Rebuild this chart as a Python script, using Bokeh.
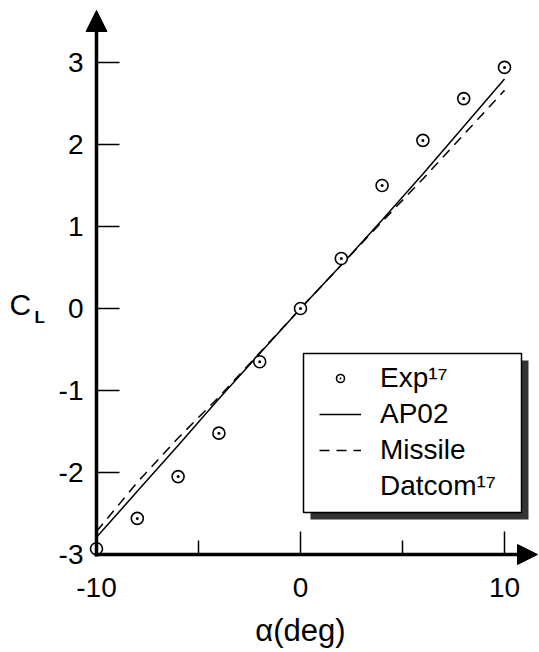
from bokeh.plotting import figure
from bokeh.models import Range1d, Arrow, NormalHead, Legend, LegendItem
from bokeh.core.properties import value
from bokeh.embed import file_html
from bokeh.resources import INLINE

# ---- data ----
alpha = [-10, -8, -6, -4, -2, 0, 2, 4, 6, 8, 10]
exp_cl = [-2.93, -2.56, -2.05, -1.52, -0.65, 0.0, 0.61, 1.50, 2.05, 2.56, 2.94]
ap02_cl = [-2.79, -2.23, -1.67, -1.10, -0.55, 0.0, 0.53, 1.08, 1.64, 2.22, 2.80]
datcom_cl = [-2.72, -2.12, -1.58, -1.08, -0.54, 0.0, 0.53, 1.06, 1.58, 2.12, 2.66]

x_ticks = [-10, 0, 10]
x_minor = [-5, 5]
x_tick_labels = ["-10", "0", "10"]
y_ticks = [-3, -2, -1, 0, 1, 2, 3]
y_tick_labels = ["-3", "-2", "-1", "0", "1", "2", "3"]

FONT = "Liberation Sans"
W, H = 539, 652
OX, OY = 96, 554          # canvas px of the axes origin (-10, -3)
SX, SY = 20.4, 82.0       # px per data unit
X0, Y0 = -10.0, -3.0

def X(px):
    return X0 + (px - OX) / SX

def Y(py):
    return Y0 + (OY - py) / SY

p = figure(width=W, height=H, output_backend="svg", toolbar_location=None,
           x_range=Range1d(X(0), X(W)), y_range=Range1d(Y(H), Y(0)),
           x_axis_location=None, y_axis_location=None,
           min_border=0, min_border_left=0, min_border_right=0,
           min_border_top=0, min_border_bottom=0)
p.outline_line_color = None
p.xgrid.visible = False
p.ygrid.visible = False
p.background_fill_color = "white"
p.border_fill_color = "white"

# ---- ticks (inward) ----
p.segment(x0=[X0] * len(y_ticks), y0=y_ticks,
          x1=[X0 + 23 / SX] * len(y_ticks), y1=y_ticks,
          line_color="black", line_width=1.5)
p.segment(x0=x_ticks, y0=[Y0] * len(x_ticks),
          x1=x_ticks, y1=[Y0 + 23 / SY] * len(x_ticks),
          line_color="black", line_width=1.5)
p.segment(x0=x_minor, y0=[Y0] * len(x_minor),
          x1=x_minor, y1=[Y0 + 14 / SY] * len(x_minor),
          line_color="black", line_width=1.5)

# ---- tick labels ----
p.text(x=[X0 - 13 / SX] * len(y_ticks), y=y_ticks, text=y_tick_labels,
       text_font=value(FONT), text_font_size="28px", text_color="black",
       text_align="right", text_baseline="middle")
p.text(x=x_ticks, y=[Y0 - 33 / SY] * len(x_ticks), text=x_tick_labels,
       text_font=value(FONT), text_font_size="28px", text_color="black",
       text_align="center", text_baseline="middle")

# ---- axis titles ----
p.text(x=[X(9)], y=[Y(304)], text=["C"], text_font=value(FONT),
       text_font_size="30px", text_color="black", text_align="left",
       text_baseline="middle")
p.text(x=[X(34)], y=[Y(317)], text=["L"], text_font=value(FONT),
       text_font_size="17px", text_font_style="bold", text_color="black",
       text_align="left", text_baseline="middle")
p.text(x=[X(300)], y=[Y(630)], text=["\u03b1(deg)"], text_font=value(FONT),
       text_font_size="31px", text_color="black", text_align="center",
       text_baseline="middle")

# ---- legend box with shadow ----
p.quad(left=[X(310)], right=[X(528)], bottom=[Y(519)], top=[Y(360)],
       fill_color="#333333", line_color=None)
p.quad(left=[X(303)], right=[X(521)], bottom=[Y(512)], top=[Y(353)],
       fill_color="white", line_color="black", line_width=1.5)

# ---- data ----
ap_r = p.line(alpha, ap02_cl, line_color="black", line_width=1.5)
dat_r = p.line(alpha, datcom_cl, line_color="black", line_width=1.5, line_dash="10 7")
exp_r = p.scatter(alpha, exp_cl, marker="circle_dot", size=12, line_color="black",
                  line_width=1.6, fill_color="white")
dummy = p.line(x=[], y=[], line_alpha=0)

legend = Legend(items=[
    LegendItem(label="Exp\u00b9\u2077", renderers=[exp_r]),
    LegendItem(label="AP02", renderers=[ap_r]),
    LegendItem(label="Missile", renderers=[dat_r]),
    LegendItem(label="Datcom\u00b9\u2077", renderers=[dummy]),
], location=(319, H - 504), padding=0, margin=0, spacing=0, label_height=36,
    glyph_width=42, glyph_height=20, label_standoff=19,
    border_line_color=None, background_fill_alpha=0,
    label_text_font=FONT, label_text_font_size="28px", label_text_color="black")
p.add_layout(legend)

# ---- axes with arrow heads ----
p.add_layout(Arrow(end=NormalHead(size=21, fill_color="black", line_color="black"),
                   x_start=X0, y_start=Y(556), x_end=X0, y_end=Y(10),
                   line_width=3.5, line_color="black"))
p.add_layout(Arrow(end=NormalHead(size=20, fill_color="black", line_color="black"),
                   x_start=X(94), y_start=Y0, x_end=X(537), y_end=Y0,
                   line_width=3.5, line_color="black"))

open("out.html", "w").write(file_html(p, INLINE))
